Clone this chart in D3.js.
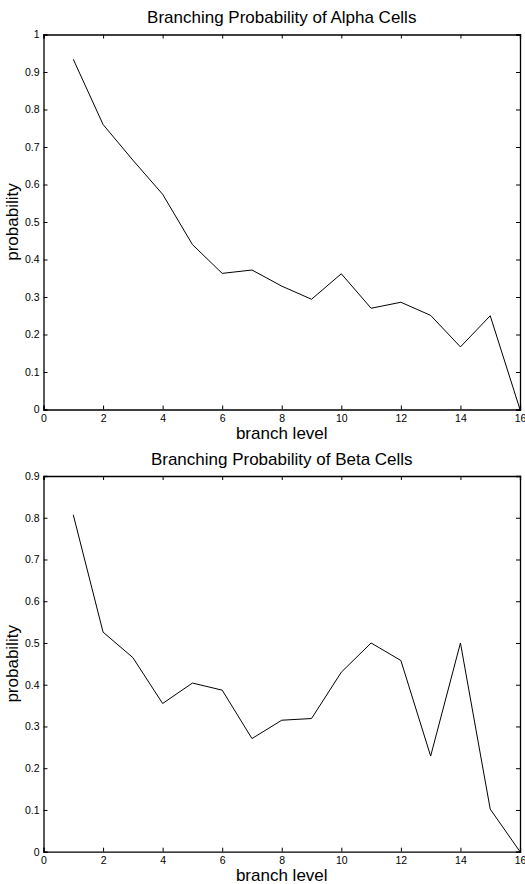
<!DOCTYPE html>
<html>
<head>
<meta charset="utf-8">
<script src="https://cdn.jsdelivr.net/npm/d3@7"></script>
<style>
  html, body { margin: 0; padding: 0; background: #fff; }
  svg { display: block; font-family: "Liberation Sans", Arial, Helvetica, sans-serif; }
</style>
</head>
<body>
<svg id="chart" width="525" height="884"></svg>
<script>
// ---- data ----
const branchLevels = [1,2,3,4,5,6,7,8,9,10,11,12,13,14,15,16];
const alphaProb = [0.934,0.760,0.665,0.574,0.440,0.363,0.372,0.329,0.294,0.362,0.270,0.286,0.251,0.167,0.250,0.0];
const betaProb  = [0.807,0.526,0.465,0.355,0.404,0.387,0.271,0.315,0.319,0.430,0.500,0.458,0.229,0.500,0.102,0.0];
const xTicks = [0,2,4,6,8,10,12,14,16];
const alphaYTicks = [0,0.1,0.2,0.3,0.4,0.5,0.6,0.7,0.8,0.9,1];
const betaYTicks  = [0,0.1,0.2,0.3,0.4,0.5,0.6,0.7,0.8,0.9];
const titles = ["Branching Probability of Alpha Cells", "Branching Probability of Beta Cells"];
const xLabel = "branch level";
const yLabel = "probability";

const svg = d3.select("#chart");

function panel(cfg) {
  const {top, bottom, left, right, values, yMax, yTicks, title} = cfg;
  const x = d3.scaleLinear().domain([0,16]).range([left, right]);
  const y = d3.scaleLinear().domain([0,yMax]).range([bottom, top]);
  const g = svg.append("g");
  const fmt = d => d === 0 ? "0" : (d === 1 ? "1" : d3.format(".1f")(d));

  const ax = g.append("g").attr("transform", `translate(0,${bottom})`)
    .call(d3.axisBottom(x).tickValues(xTicks).tickSize(-4).tickPadding(5).tickFormat(d3.format("d")));
  const axT = g.append("g").attr("transform", `translate(0,${top})`)
    .call(d3.axisTop(x).tickValues(xTicks).tickSize(-4).tickFormat(""));
  const ay = g.append("g").attr("transform", `translate(${left},0)`)
    .call(d3.axisLeft(y).tickValues(yTicks).tickSize(-4).tickPadding(4).tickFormat(fmt));
  const ayR = g.append("g").attr("transform", `translate(${right},0)`)
    .call(d3.axisRight(y).tickValues(yTicks).tickSize(-4).tickFormat(""));

  [ax, axT, ay, ayR].forEach(a => {
    a.select(".domain").attr("stroke", "#000").attr("stroke-width", 1.3);
    a.selectAll(".tick line").attr("stroke", "#000").attr("stroke-width", 1);
    a.selectAll("text").attr("fill", "#000").attr("font-size", 10.5)
      .attr("font-family", "'Liberation Sans', Arial, sans-serif");
  });
  ax.selectAll("text").attr("dy", "0.71em");
  ay.selectAll("text").attr("dy", "0.32em");

  const line = d3.line().x((d,i) => x(branchLevels[i])).y(d => y(d));
  g.append("path").datum(values)
    .attr("d", line).attr("fill", "none").attr("stroke", "#000").attr("stroke-width", 1);

  g.append("text").attr("x", (left+right)/2).attr("y", top - 11.5)
    .attr("text-anchor", "middle").attr("font-size", 17).text(title);
  g.append("text").attr("x", (left+right)/2).attr("y", bottom + 29)
    .attr("text-anchor", "middle").attr("font-size", 17).text(xLabel);
  g.append("text").attr("transform", `translate(${left-26},${(top+bottom)/2}) rotate(-90)`)
    .attr("text-anchor", "middle").attr("font-size", 17).text(yLabel);
}

panel({top: 34.5, bottom: 409.5, left: 43.5, right: 520, values: alphaProb, yMax: 1, yTicks: alphaYTicks, title: titles[0]});
panel({top: 476, bottom: 851.7, left: 43.5, right: 520, values: betaProb, yMax: 0.9, yTicks: betaYTicks, title: titles[1]});
</script>
</body>
</html>
